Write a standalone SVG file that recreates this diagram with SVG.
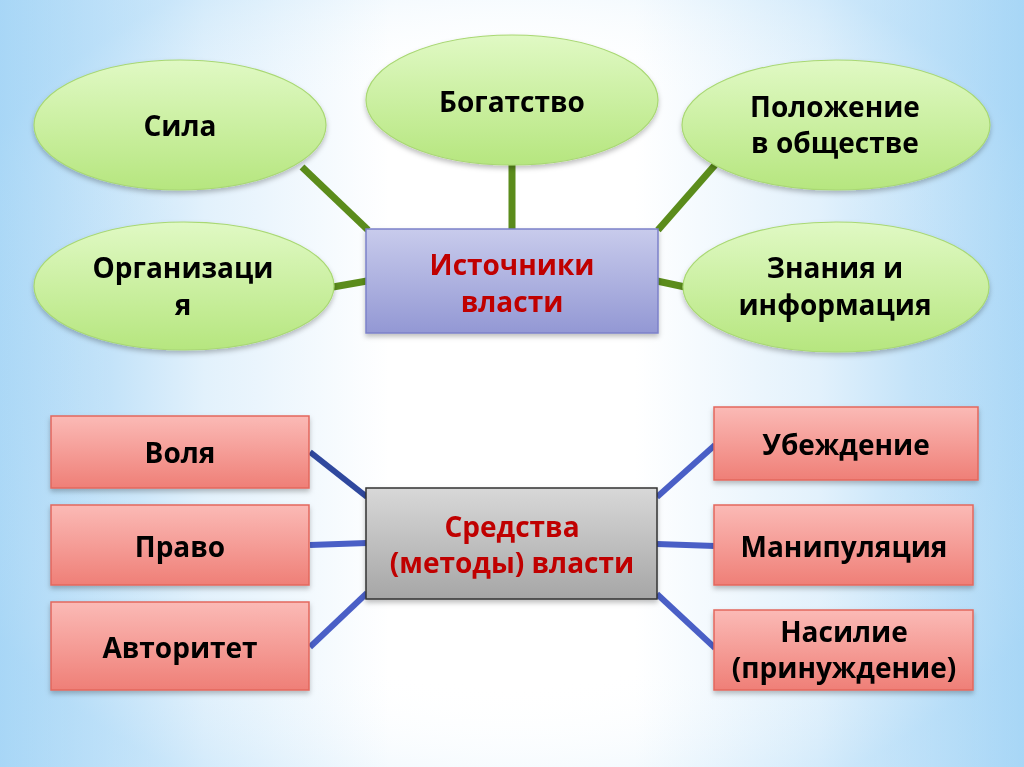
<svg xmlns="http://www.w3.org/2000/svg" width="1024" height="767" viewBox="0 0 1024 767">
<defs>
<linearGradient id="bg" x1="0" y1="0" x2="1" y2="0">
<stop offset="0" stop-color="#9fd2f5"/>
<stop offset="0.2" stop-color="#e2f1fc"/>
<stop offset="0.38" stop-color="#ffffff"/>
<stop offset="0.62" stop-color="#ffffff"/>
<stop offset="0.8" stop-color="#e2f1fc"/>
<stop offset="1" stop-color="#9fd2f5"/>
</linearGradient>
<radialGradient id="bgv" cx="0.5" cy="0.5" r="0.6">
<stop offset="0.65" stop-color="#ffffff" stop-opacity="0"/>
<stop offset="1" stop-color="#b5ddf8" stop-opacity="0.4"/>
</radialGradient>
<linearGradient id="green" x1="0" y1="0" x2="0" y2="1">
<stop offset="0" stop-color="#e0f9c4"/>
<stop offset="1" stop-color="#b6e67f"/>
</linearGradient>
<linearGradient id="lav" x1="0" y1="0" x2="0" y2="1">
<stop offset="0" stop-color="#c8cbec"/>
<stop offset="1" stop-color="#9398d4"/>
</linearGradient>
<linearGradient id="gray" x1="0" y1="0" x2="0" y2="1">
<stop offset="0" stop-color="#d8d8d8"/>
<stop offset="1" stop-color="#a6a6a6"/>
</linearGradient>
<linearGradient id="pink" x1="0" y1="0" x2="0" y2="1">
<stop offset="0" stop-color="#fbbab6"/>
<stop offset="1" stop-color="#ef7f77"/>
</linearGradient>
<filter id="sh" x="-10%" y="-10%" width="120%" height="130%">
<feDropShadow dx="0" dy="3" stdDeviation="2.5" flood-color="#000" flood-opacity="0.25"/>
</filter>
</defs>
<style>
.ell{fill:url(#green);stroke:#a9d873;stroke-width:1.2}
.pk{fill:url(#pink);stroke:#e3675d;stroke-width:1.5}
.t{font-family:"Open Sans","Noto Sans","DejaVu Sans",sans-serif;font-weight:bold;font-size:28px;fill:#000;text-anchor:middle}
.r{fill:#c00000}
.g{stroke:#5b8c1b;stroke-width:7;fill:none}
.b{stroke:#4a5fc6;stroke-width:6;fill:none}
.bd{stroke:#2f489e}
</style>
<rect x="0" y="0" width="1024" height="767" fill="url(#bg)"/>
<rect x="0" y="0" width="1024" height="767" fill="url(#bgv)"/>

<g id="connectors">
<line class="g" x1="302" y1="167" x2="368" y2="230"/>
<line class="g" x1="512" y1="163" x2="512" y2="230"/>
<line class="g" x1="715" y1="165" x2="658" y2="230"/>
<line class="g" x1="333" y1="287" x2="367" y2="281"/>
<line class="g" x1="657" y1="281" x2="685" y2="287"/>
<line class="b bd" x1="310" y1="452" x2="367" y2="497"/>
<line class="b" x1="310" y1="545" x2="367" y2="543"/>
<line class="b" x1="310" y1="647" x2="367" y2="593"/>
<line class="b" x1="657" y1="497" x2="715" y2="445"/>
<line class="b" x1="657" y1="544" x2="715" y2="546"/>
<line class="b" x1="657" y1="594" x2="715" y2="648"/>
</g>

<g id="sila" filter="url(#sh)">
<ellipse class="ell" cx="180" cy="125" rx="146" ry="65"/>
<text class="t" x="180" y="136">Сила</text>
</g>
<g id="bogatstvo" filter="url(#sh)">
<ellipse class="ell" cx="512" cy="100" rx="146" ry="65"/>
<text class="t" x="512" y="112">Богатство</text>
</g>
<g id="polozhenie" filter="url(#sh)">
<ellipse class="ell" cx="836" cy="125" rx="154" ry="65"/>
<text class="t" x="835" y="117">Положение</text>
<text class="t" x="835" y="153">в обществе</text>
</g>
<g id="organizatsiya" filter="url(#sh)">
<ellipse class="ell" cx="184" cy="286" rx="150" ry="64"/>
<text class="t" x="183" y="278">Организаци</text>
<text class="t" x="183" y="315">я</text>
</g>
<g id="znaniya" filter="url(#sh)">
<ellipse class="ell" cx="836" cy="287" rx="153" ry="65"/>
<text class="t" x="835" y="278">Знания и</text>
<text class="t" x="835" y="315">информация</text>
</g>
<g id="istochniki" filter="url(#sh)">
<rect x="366" y="229" width="292" height="104" fill="url(#lav)" stroke="#7c81c9" stroke-width="1.5"/>
<text class="t r" x="512" y="275">Источники</text>
<text class="t r" x="512" y="312">власти</text>
</g>

<g id="sredstva" filter="url(#sh)">
<rect x="366" y="488" width="291" height="111" fill="url(#gray)" stroke="#333333" stroke-width="1.5"/>
<text class="t r" x="512" y="537">Средства</text>
<text class="t r" x="512" y="573">(методы) власти</text>
</g>
<g id="volya" filter="url(#sh)">
<rect class="pk" x="51" y="416" width="258" height="72"/>
<text class="t" x="180" y="463">Воля</text>
</g>
<g id="pravo" filter="url(#sh)">
<rect class="pk" x="51" y="505" width="258" height="80"/>
<text class="t" x="180" y="557">Право</text>
</g>
<g id="avtoritet" filter="url(#sh)">
<rect class="pk" x="51" y="602" width="258" height="88"/>
<text class="t" x="180" y="658">Авторитет</text>
</g>
<g id="ubezhdenie" filter="url(#sh)">
<rect class="pk" x="714" y="407" width="264" height="73"/>
<text class="t" x="846" y="455">Убеждение</text>
</g>
<g id="manipulyatsiya" filter="url(#sh)">
<rect class="pk" x="714" y="505" width="259" height="80"/>
<text class="t" x="844" y="557">Манипуляция</text>
</g>
<g id="nasilie" filter="url(#sh)">
<rect class="pk" x="714" y="610" width="259" height="80"/>
<text class="t" x="844" y="642">Насилие</text>
<text class="t" x="844" y="678">(принуждение)</text>
</g>
</svg>
